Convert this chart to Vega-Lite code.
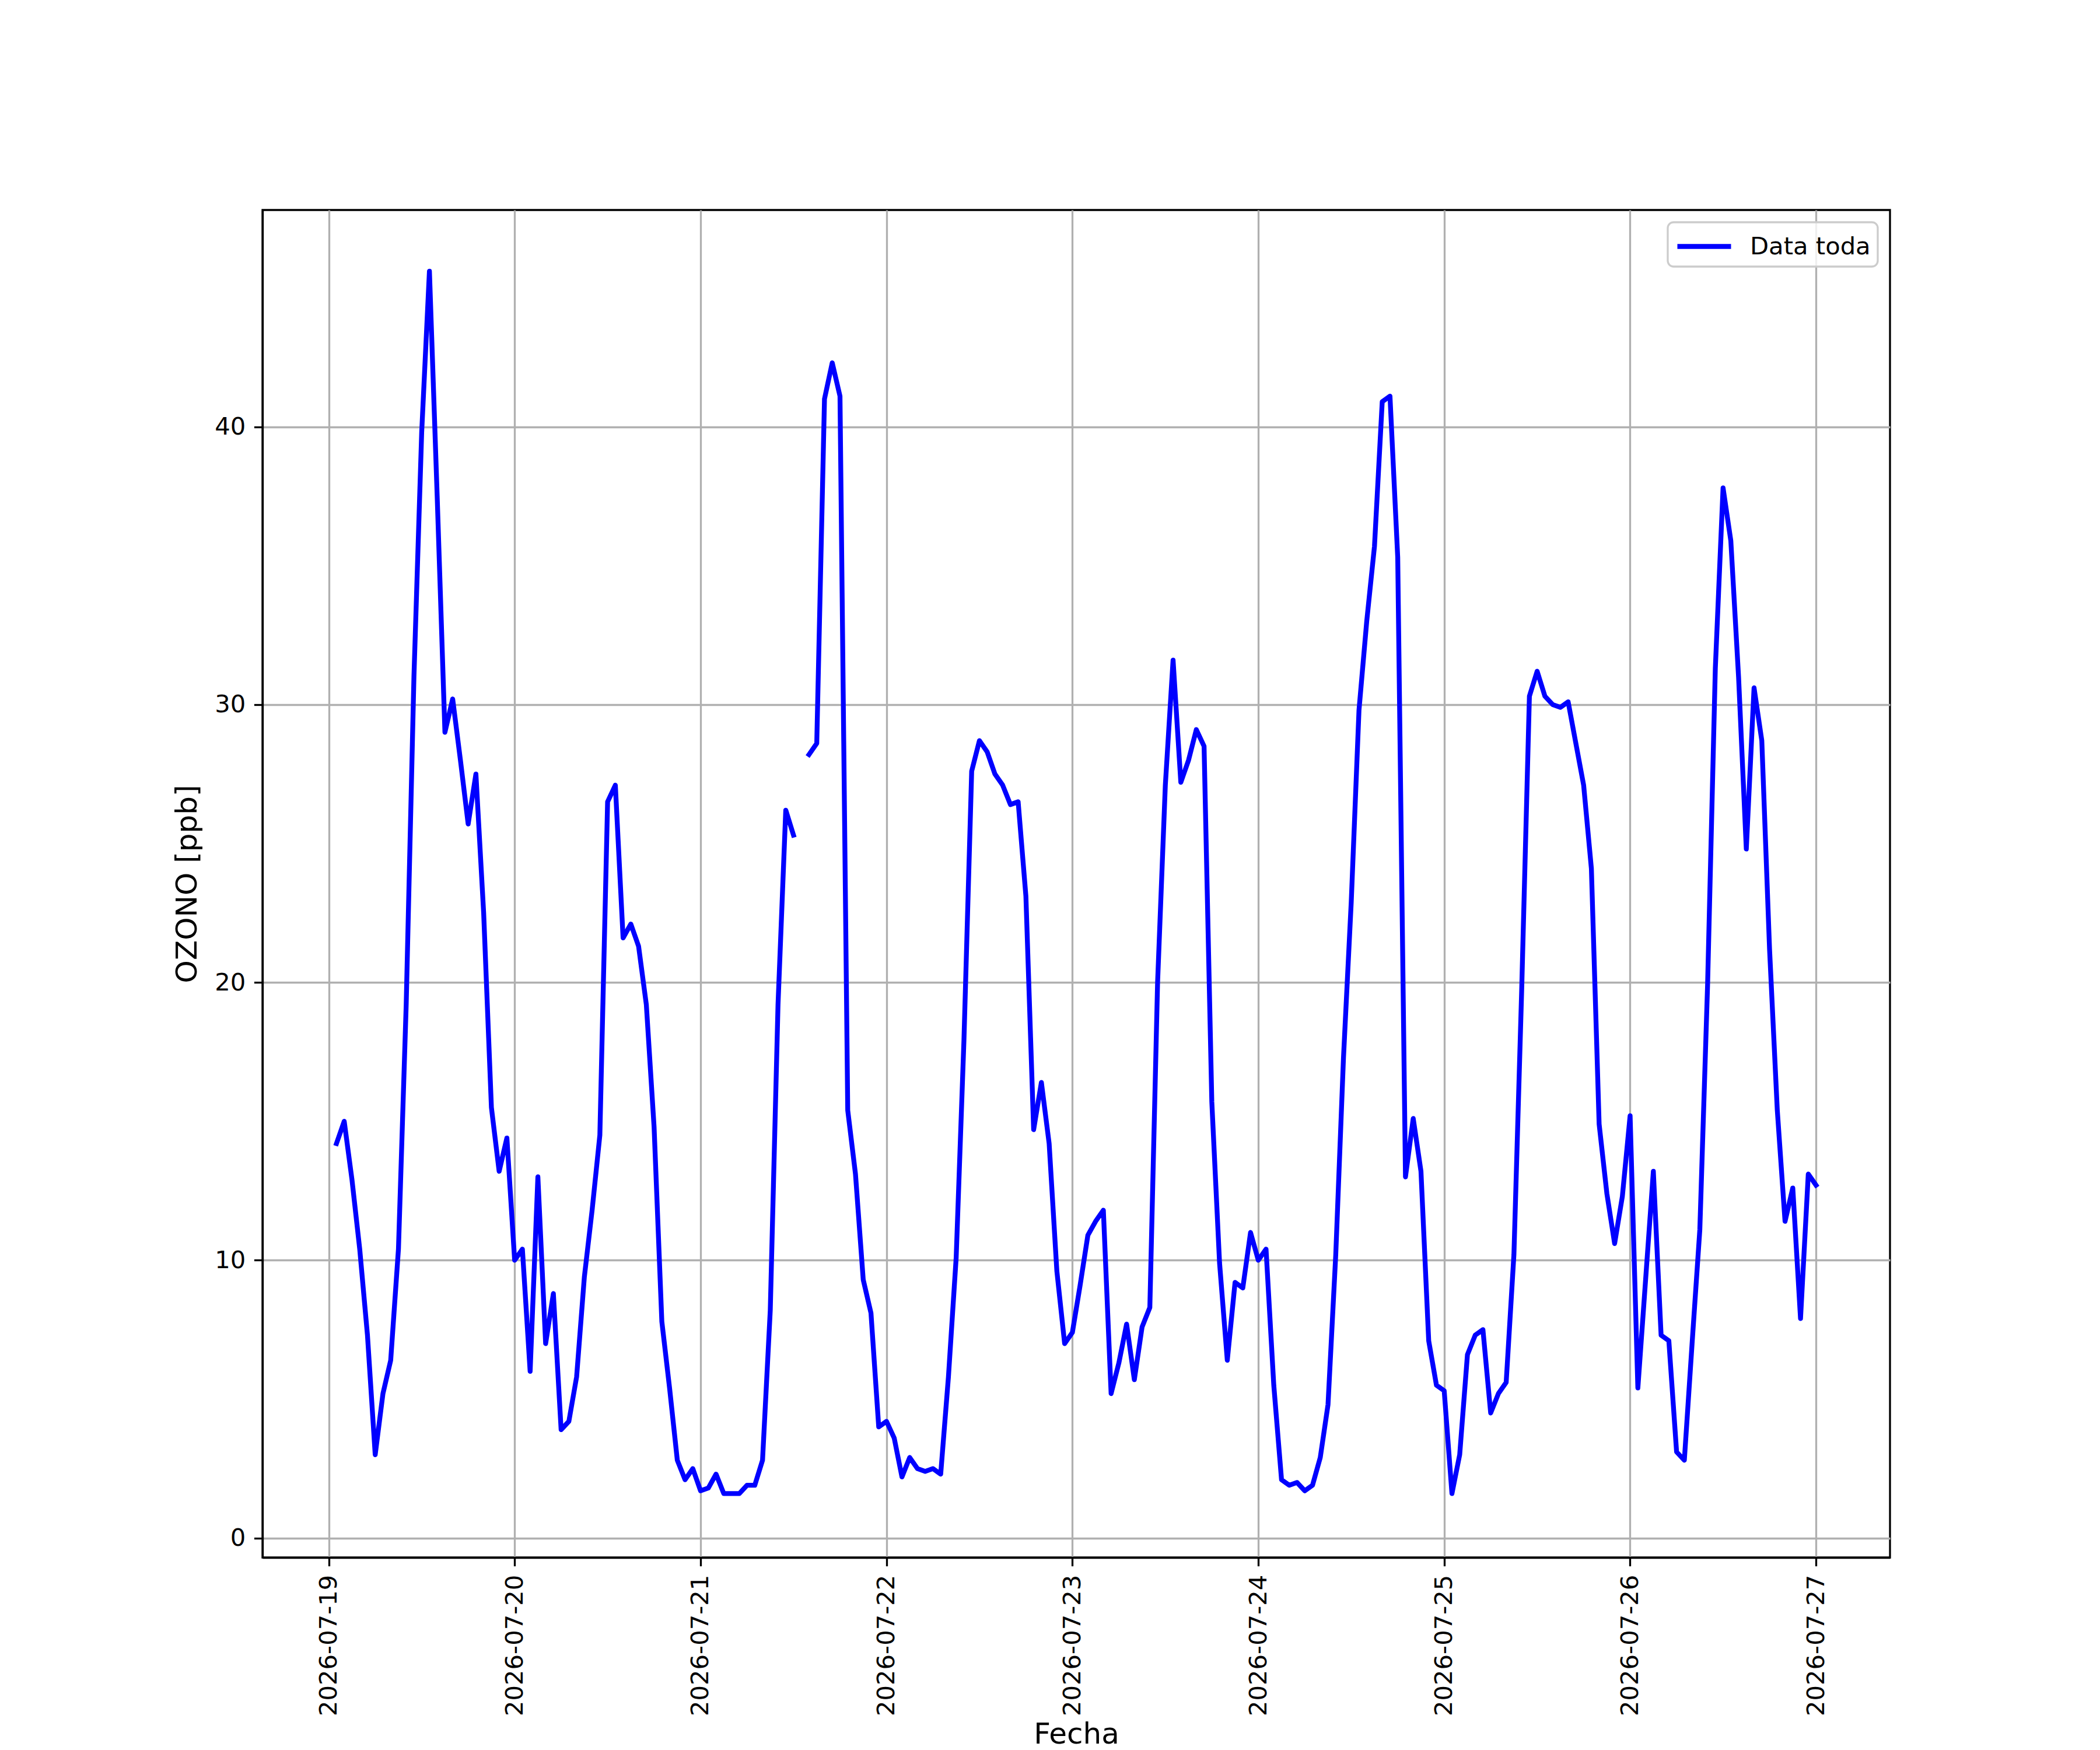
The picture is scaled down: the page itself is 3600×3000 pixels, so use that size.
{
  "$schema": "https://vega.github.io/schema/vega-lite/v6.json",
  "autosize": {"type": "none"},
  "width": 2790,
  "height": 2310,
  "padding": {"left": 450, "top": 360, "right": 360, "bottom": 330},
  "background": "white",
  "config": {
    "font": "DejaVu Sans",
    "view": {"stroke": "black", "strokeWidth": 3.3},
    "axis": {
      "labelFont": "DejaVu Sans", "labelFontSize": 41.7, "labelColor": "black",
      "titleFont": "DejaVu Sans", "titleFontSize": 50, "titleFontWeight": "normal", "titleColor": "black",
      "domainColor": "black", "domainWidth": 3.3,
      "tickColor": "black", "tickWidth": 3.3, "tickSize": 14.6,
      "labelPadding": 14.6, "labelLimit": 600,
      "gridColor": "#b0b0b0", "gridWidth": 3.3, "gridOpacity": 1
    },
    "legend": {
      "labelFont": "DejaVu Sans", "labelFontSize": 41.7, "labelColor": "black", "labelLimit": 600
    }
  },
  "data": {
    "values": [
      {"t":"2026-07-19T01:00","v":14.2},{"t":"2026-07-19T02:00","v":15.0},{"t":"2026-07-19T03:00","v":12.9},{"t":"2026-07-19T04:00","v":10.4},
      {"t":"2026-07-19T05:00","v":7.3},{"t":"2026-07-19T06:00","v":3.0},{"t":"2026-07-19T07:00","v":5.2},{"t":"2026-07-19T08:00","v":6.4},
      {"t":"2026-07-19T09:00","v":10.4},{"t":"2026-07-19T10:00","v":19.2},{"t":"2026-07-19T11:00","v":31.0},{"t":"2026-07-19T12:00","v":39.8},
      {"t":"2026-07-19T13:00","v":45.6},{"t":"2026-07-19T14:00","v":37.5},{"t":"2026-07-19T15:00","v":29.0},{"t":"2026-07-19T16:00","v":30.2},
      {"t":"2026-07-19T17:00","v":28.0},{"t":"2026-07-19T18:00","v":25.7},{"t":"2026-07-19T19:00","v":27.5},{"t":"2026-07-19T20:00","v":22.5},
      {"t":"2026-07-19T21:00","v":15.5},{"t":"2026-07-19T22:00","v":13.2},{"t":"2026-07-19T23:00","v":14.4},
      {"t":"2026-07-20T00:00","v":10.0},{"t":"2026-07-20T01:00","v":10.4},{"t":"2026-07-20T02:00","v":6.0},{"t":"2026-07-20T03:00","v":13.0},
      {"t":"2026-07-20T04:00","v":7.0},{"t":"2026-07-20T05:00","v":8.8},{"t":"2026-07-20T06:00","v":3.9},{"t":"2026-07-20T07:00","v":4.2},
      {"t":"2026-07-20T08:00","v":5.8},{"t":"2026-07-20T09:00","v":9.4},{"t":"2026-07-20T10:00","v":11.8},{"t":"2026-07-20T11:00","v":14.5},
      {"t":"2026-07-20T12:00","v":26.5},{"t":"2026-07-20T13:00","v":27.1},{"t":"2026-07-20T14:00","v":21.6},{"t":"2026-07-20T15:00","v":22.1},
      {"t":"2026-07-20T16:00","v":21.3},{"t":"2026-07-20T17:00","v":19.2},{"t":"2026-07-20T18:00","v":14.8},{"t":"2026-07-20T19:00","v":7.8},
      {"t":"2026-07-20T20:00","v":5.4},{"t":"2026-07-20T21:00","v":2.8},{"t":"2026-07-20T22:00","v":2.1},{"t":"2026-07-20T23:00","v":2.5},
      {"t":"2026-07-21T00:00","v":1.7},{"t":"2026-07-21T01:00","v":1.8},{"t":"2026-07-21T02:00","v":2.3},{"t":"2026-07-21T03:00","v":1.6},
      {"t":"2026-07-21T04:00","v":1.6},{"t":"2026-07-21T05:00","v":1.6},{"t":"2026-07-21T06:00","v":1.9},{"t":"2026-07-21T07:00","v":1.9},
      {"t":"2026-07-21T08:00","v":2.8},{"t":"2026-07-21T09:00","v":8.2},{"t":"2026-07-21T10:00","v":19.2},{"t":"2026-07-21T11:00","v":26.2},
      {"t":"2026-07-21T12:00","v":25.3},{"t":"2026-07-21T13:00","v":null},{"t":"2026-07-21T14:00","v":28.2},{"t":"2026-07-21T15:00","v":28.6},
      {"t":"2026-07-21T16:00","v":41.0},{"t":"2026-07-21T17:00","v":42.3},{"t":"2026-07-21T18:00","v":41.1},{"t":"2026-07-21T19:00","v":15.4},
      {"t":"2026-07-21T20:00","v":13.1},{"t":"2026-07-21T21:00","v":9.3},{"t":"2026-07-21T22:00","v":8.1},{"t":"2026-07-21T23:00","v":4.0},
      {"t":"2026-07-22T00:00","v":4.2},{"t":"2026-07-22T01:00","v":3.6},{"t":"2026-07-22T02:00","v":2.2},{"t":"2026-07-22T03:00","v":2.9},
      {"t":"2026-07-22T04:00","v":2.5},{"t":"2026-07-22T05:00","v":2.4},{"t":"2026-07-22T06:00","v":2.5},{"t":"2026-07-22T07:00","v":2.3},
      {"t":"2026-07-22T08:00","v":5.8},{"t":"2026-07-22T09:00","v":10.1},{"t":"2026-07-22T10:00","v":17.9},{"t":"2026-07-22T11:00","v":27.6},
      {"t":"2026-07-22T12:00","v":28.7},{"t":"2026-07-22T13:00","v":28.3},{"t":"2026-07-22T14:00","v":27.5},{"t":"2026-07-22T15:00","v":27.1},
      {"t":"2026-07-22T16:00","v":26.4},{"t":"2026-07-22T17:00","v":26.5},{"t":"2026-07-22T18:00","v":23.1},{"t":"2026-07-22T19:00","v":14.7},
      {"t":"2026-07-22T20:00","v":16.4},{"t":"2026-07-22T21:00","v":14.2},{"t":"2026-07-22T22:00","v":9.6},{"t":"2026-07-22T23:00","v":7.0},
      {"t":"2026-07-23T00:00","v":7.4},{"t":"2026-07-23T01:00","v":9.1},{"t":"2026-07-23T02:00","v":10.9},{"t":"2026-07-23T03:00","v":11.4},
      {"t":"2026-07-23T04:00","v":11.8},{"t":"2026-07-23T05:00","v":5.2},{"t":"2026-07-23T06:00","v":6.3},{"t":"2026-07-23T07:00","v":7.7},
      {"t":"2026-07-23T08:00","v":5.7},{"t":"2026-07-23T09:00","v":7.6},{"t":"2026-07-23T10:00","v":8.3},{"t":"2026-07-23T11:00","v":20.0},
      {"t":"2026-07-23T12:00","v":27.1},{"t":"2026-07-23T13:00","v":31.6},{"t":"2026-07-23T14:00","v":27.2},{"t":"2026-07-23T15:00","v":28.0},
      {"t":"2026-07-23T16:00","v":29.1},{"t":"2026-07-23T17:00","v":28.5},{"t":"2026-07-23T18:00","v":15.7},{"t":"2026-07-23T19:00","v":9.9},
      {"t":"2026-07-23T20:00","v":6.4},{"t":"2026-07-23T21:00","v":9.2},{"t":"2026-07-23T22:00","v":9.0},{"t":"2026-07-23T23:00","v":11.0},
      {"t":"2026-07-24T00:00","v":10.0},{"t":"2026-07-24T01:00","v":10.4},{"t":"2026-07-24T02:00","v":5.5},{"t":"2026-07-24T03:00","v":2.1},
      {"t":"2026-07-24T04:00","v":1.9},{"t":"2026-07-24T05:00","v":2.0},{"t":"2026-07-24T06:00","v":1.7},{"t":"2026-07-24T07:00","v":1.9},
      {"t":"2026-07-24T08:00","v":2.9},{"t":"2026-07-24T09:00","v":4.8},{"t":"2026-07-24T10:00","v":10.2},{"t":"2026-07-24T11:00","v":17.3},
      {"t":"2026-07-24T12:00","v":22.9},{"t":"2026-07-24T13:00","v":29.8},{"t":"2026-07-24T14:00","v":33.0},{"t":"2026-07-24T15:00","v":35.7},
      {"t":"2026-07-24T16:00","v":40.9},{"t":"2026-07-24T17:00","v":41.1},{"t":"2026-07-24T18:00","v":35.3},{"t":"2026-07-24T19:00","v":13.0},
      {"t":"2026-07-24T20:00","v":15.1},{"t":"2026-07-24T21:00","v":13.2},{"t":"2026-07-24T22:00","v":7.1},{"t":"2026-07-24T23:00","v":5.5},
      {"t":"2026-07-25T00:00","v":5.3},{"t":"2026-07-25T01:00","v":1.6},{"t":"2026-07-25T02:00","v":3.0},{"t":"2026-07-25T03:00","v":6.6},
      {"t":"2026-07-25T04:00","v":7.3},{"t":"2026-07-25T05:00","v":7.5},{"t":"2026-07-25T06:00","v":4.5},{"t":"2026-07-25T07:00","v":5.2},
      {"t":"2026-07-25T08:00","v":5.6},{"t":"2026-07-25T09:00","v":10.2},{"t":"2026-07-25T10:00","v":19.7},{"t":"2026-07-25T11:00","v":30.3},
      {"t":"2026-07-25T12:00","v":31.2},{"t":"2026-07-25T13:00","v":30.3},{"t":"2026-07-25T14:00","v":30.0},{"t":"2026-07-25T15:00","v":29.9},
      {"t":"2026-07-25T16:00","v":30.1},{"t":"2026-07-25T17:00","v":28.6},{"t":"2026-07-25T18:00","v":27.1},{"t":"2026-07-25T19:00","v":24.1},
      {"t":"2026-07-25T20:00","v":14.9},{"t":"2026-07-25T21:00","v":12.4},{"t":"2026-07-25T22:00","v":10.6},{"t":"2026-07-25T23:00","v":12.3},
      {"t":"2026-07-26T00:00","v":15.2},{"t":"2026-07-26T01:00","v":5.4},{"t":"2026-07-26T02:00","v":9.3},{"t":"2026-07-26T03:00","v":13.2},
      {"t":"2026-07-26T04:00","v":7.3},{"t":"2026-07-26T05:00","v":7.1},{"t":"2026-07-26T06:00","v":3.1},{"t":"2026-07-26T07:00","v":2.8},
      {"t":"2026-07-26T08:00","v":7.0},{"t":"2026-07-26T09:00","v":11.1},{"t":"2026-07-26T10:00","v":19.9},{"t":"2026-07-26T11:00","v":31.3},
      {"t":"2026-07-26T12:00","v":37.8},{"t":"2026-07-26T13:00","v":35.9},{"t":"2026-07-26T14:00","v":31.0},{"t":"2026-07-26T15:00","v":24.8},
      {"t":"2026-07-26T16:00","v":30.6},{"t":"2026-07-26T17:00","v":28.7},{"t":"2026-07-26T18:00","v":21.2},{"t":"2026-07-26T19:00","v":15.4},
      {"t":"2026-07-26T20:00","v":11.4},{"t":"2026-07-26T21:00","v":12.6},{"t":"2026-07-26T22:00","v":7.9},{"t":"2026-07-26T23:00","v":13.1},
      {"t":"2026-07-27T00:00","v":12.7}
    ]
  },
  "mark": {
    "type": "line",
    "strokeWidth": 8.3,
    "strokeCap": "square",
    "strokeJoin": "round",
    "invalid": "break-paths-show-domains",
    "clip": true
  },
  "encoding": {
    "x": {
      "field": "t",
      "type": "temporal",
      "scale": {
        "domain": [
          {"year": 2026, "month": 7, "date": 18, "hours": 15, "minutes": 27},
          {"year": 2026, "month": 7, "date": 27, "hours": 9, "minutes": 33}
        ],
        "nice": false
      },
      "axis": {
        "title": "Fecha",
        "format": "%Y-%m-%d",
        "tickCount": {"interval": "day", "step": 1},
        "labelAngle": 270,
        "labelAlign": "right",
        "labelBaseline": "middle",
        "titlePadding": 78,
        "grid": true
      }
    },
    "y": {
      "field": "v",
      "type": "quantitative",
      "scale": {"domain": [-0.7, 47.8], "nice": false, "zero": false},
      "axis": {
        "title": "OZONO [ppb]",
        "values": [0, 10, 20, 30, 40],
        "titlePadding": 21,
        "grid": true
      }
    },
    "color": {
      "datum": "Data toda",
      "type": "nominal",
      "scale": {"range": ["#0000ff"]},
      "legend": {
        "title": null,
        "orient": "top-right",
        "offset": 21,
        "symbolType": "M-1.84,0H1.84",
        "symbolStrokeWidth": 8.3,
        "symbolSize": 2500,
        "symbolOffset": 21,
        "labelOffset": 49,
        "padding": 12,
        "cornerRadius": 10,
        "strokeColor": "#cccccc",
        "fillColor": "rgba(255,255,255,0.8)",
        "encode": {"legend": {"update": {"strokeWidth": {"value": 3.3}}}}
      }
    }
  }
}
